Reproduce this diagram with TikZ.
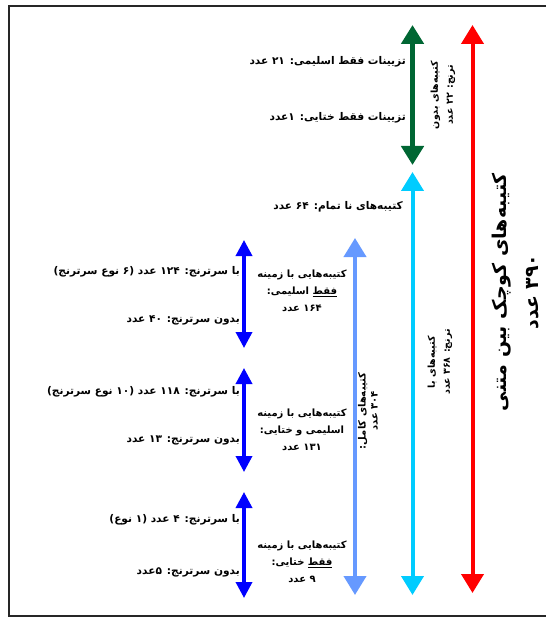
\documentclass[tikz,border=0pt]{standalone}
\usepackage{fontspec}
\usetikzlibrary{arrows.meta}
\TeXXeTstate=1
\newfontfamily\arabicfont[Script=Arabic]{DejaVu Sans}
\newcommand{\fa}[1]{{\arabicfont\bfseries\beginR #1\endR}}
\definecolor{rred}{RGB}{255,0,0}
\definecolor{dgreen}{RGB}{0,102,51}
\definecolor{ccyan}{RGB}{0,204,255}
\definecolor{lblue}{RGB}{102,153,255}
\definecolor{bblue}{RGB}{0,0,255}
\tikzset{
  bigarrow/.style={line width=4pt,{Triangle[width=22pt,length=19pt]}-{Triangle[width=22pt,length=19pt]}},
  smallarrow/.style={line width=3.5pt,{Triangle[width=16pt,length=16pt]}-{Triangle[width=16pt,length=16pt]}},
  lbl/.style={font=\fontsize{10.6}{17}\selectfont,inner sep=1pt},
  rlbl/.style={font=\fontsize{9.5}{15}\selectfont,inner sep=1pt,rotate=90,align=center},
  clbl/.style={font=\fontsize{10}{17}\selectfont,inner sep=1pt,align=center},
}
\begin{document}
\begin{tikzpicture}[x=1pt,y=1pt]
\useasboundingbox (0,0) rectangle (546,-617);
\draw[line width=2pt,black!85] (546,-6) -- (9,-6) -- (9,-616) -- (546,-616);
% coordinates
\coordinate (rT) at (472.5,-25);  \coordinate (rB) at (472.5,-593);
\coordinate (gT) at (412.5,-25);  \coordinate (gB) at (412.5,-165);
\coordinate (cT) at (412.5,-172); \coordinate (cB) at (412.5,-595);
\coordinate (lT) at (355,-238);   \coordinate (lB) at (355,-595);
\coordinate (b1T) at (244,-240);  \coordinate (b1B) at (244,-348);
\coordinate (b2T) at (244,-368);  \coordinate (b2B) at (244,-472);
\coordinate (b3T) at (244,-492);  \coordinate (b3B) at (244,-598);
% arrows
\draw[bigarrow,rred] (rT) -- (rB);
\draw[bigarrow,dgreen,line width=5.5pt] (gT) -- (gB);
\draw[bigarrow,ccyan] (cT) -- (cB);
\draw[bigarrow,lblue] (lT) -- (lB);
\draw[smallarrow,bblue] (b1T) -- (b1B);
\draw[smallarrow,bblue] (b2T) -- (b2B);
\draw[smallarrow,bblue] (b3T) -- (b3B);
% labels
\node[lbl,anchor=east] (g1) at (407,-62) {\fa{تزیینات فقط اسلیمی: ۲۱ عدد}};
\node[lbl,anchor=east] (g2) at (407,-118) {\fa{تزیینات فقط ختایی: ۱عدد}};
\node[lbl,anchor=east] (c1) at (404,-207) {\fa{کتیبه‌های نا تمام: ۶۴ عدد}};
\node[lbl,anchor=east] (p1) at (241,-272) {\fa{با سرترنج: ۱۲۴ عدد (۶ نوع سرترنج)}};
\node[lbl,anchor=east] (q1) at (241,-320) {\fa{بدون سرترنج: ۴۰ عدد}};
\node[lbl,anchor=east] (p2) at (241,-392) {\fa{با سرترنج: ۱۱۸ عدد (۱۰ نوع سرترنج)}};
\node[lbl,anchor=east] (q2) at (241,-440) {\fa{بدون سرترنج: ۱۳ عدد}};
\node[lbl,anchor=east] (p3) at (241,-520) {\fa{با سرترنج: ۴ عدد (۱ نوع)}};
\node[lbl,anchor=east] (q3) at (241,-572) {\fa{بدون سرترنج: ۵عدد}};
\node[clbl] (m1) at (302,-291) {\fa{کتیبه‌هایی با زمینه}\\\fa{\underline{فقط} اسلیمی:}\\\fa{۱۶۴ عدد}};
\node[clbl] (m2) at (302,-430) {\fa{کتیبه‌هایی با زمینه}\\\fa{اسلیمی و ختایی:}\\\fa{۱۳۱ عدد}};
\node[clbl] (m3) at (302,-562) {\fa{کتیبه‌هایی با زمینه}\\\fa{\underline{فقط} ختایی:}\\\fa{۹ عدد}};
\node[rlbl] (gr) at (443,-95) {\fa{کتیبه‌های بدون}\\\fa{ترنج: ۲۲ عدد}};
\node[rlbl] (cr) at (440,-362) {\fa{کتیبه‌های با}\\\fa{ترنج: ۳۶۸ عدد}};
\node[rlbl,font=\fontsize{10}{12}\selectfont] (lr) at (368,-411) {\fa{کتیبه‌های کامل:}\\\fa{۳۰۴ عدد}};
\node[rlbl,font=\fontsize{19}{32}\selectfont] (rr) at (516,-292) {\fa{کتیبه‌های کوچک بین متنی}\\\fa{۳۹۰ عدد}};
\end{tikzpicture}
\end{document}
